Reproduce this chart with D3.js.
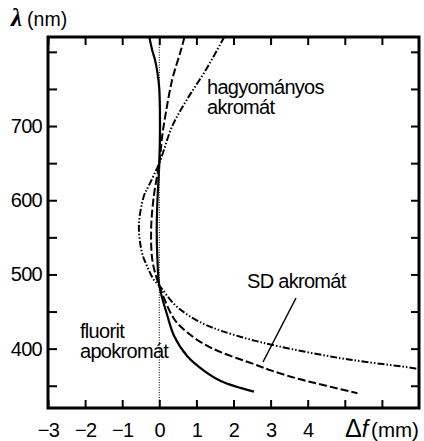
<!DOCTYPE html>
<html>
<head>
<meta charset="utf-8">
<script src="https://cdn.jsdelivr.net/npm/d3@7"></script>
<style>
  body { margin: 0; background: #fff; }
  svg { display: block; }
  text { font-family: "Liberation Sans", Arial, sans-serif; fill: #000; }
</style>
</head>
<body>
<svg></svg>
<script>
// Wavelength (nm) and focal difference (mm)
let apoLambda = [820, 800, 790, 772, 750, 700, 650, 600, 560, 520, 485, 444, 417, 390, 370, 356, 342];
let apoDf     = [-0.27, -0.18, -0.12, -0.05, 0.0, 0.02, 0.0, -0.05, -0.07, -0.05, 0.0, 0.22, 0.4, 0.75, 1.21, 1.67, 2.55];

let sdLambda = [820, 800, 763, 719, 687, 650, 605, 560, 517, 485, 440, 422, 406, 395, 379, 370, 359, 350, 340];
let sdDf     = [0.68, 0.57, 0.35, 0.18, 0.08, 0.0, -0.15, -0.22, -0.18, 0.0, 0.4, 0.75, 1.21, 1.67, 2.56, 3.05, 3.77, 4.5, 5.34];

let hagyLambda = [820, 777, 736, 700, 650, 620, 605, 565, 530, 517, 493, 485, 460, 446, 433, 424, 413, 403, 389, 382, 374, 371];
let hagyDf     = [1.75, 1.27, 0.75, 0.35, 0.0, -0.28, -0.42, -0.55, -0.47, -0.38, -0.15, 0.0, 0.4, 0.75, 1.21, 1.67, 2.4, 3.23, 4.66, 5.58, 6.82, 7.1];

let lambdaTicks = [350, 400, 450, 500, 550, 600, 650, 700, 750, 800];
let lambdaLabels = [400, 500, 600, 700];
let dfTicks = [-3, -2, -1, 0, 1, 2, 3, 4, 5, 6];
let dfLabels = ["\u22123", "\u22122", "\u22121", "0", "1", "2", "3", "4", "", ""];

let width = 424;
let height = 441;
let mLeft = 48, mRight = 419, mTop = 37, mBottom = 408;

let svg = d3.select("svg").attr("width", width).attr("height", height);

let xScale = d3.scaleLinear().domain([-3, 7]).range([mLeft, mRight]);
let yScale = d3.scaleLinear().domain([320, 820]).range([mBottom, mTop]);

// clip for curves
svg.append("clipPath").attr("id", "plot")
  .append("rect")
  .attr("x", mLeft).attr("y", mTop)
  .attr("width", mRight - mLeft).attr("height", mBottom - mTop);

// zero line
svg.append("line")
  .attr("x1", xScale(0)).attr("x2", xScale(0))
  .attr("y1", mTop).attr("y2", mBottom)
  .attr("stroke", "#000")
  .attr("stroke-width", 1)
  .attr("stroke-dasharray", "1,1.5");

// curves
function drawCurve(lambdas, dfs, dash, sw) {
  let pts = lambdas.map((l, i) => [dfs[i], l]);
  let line = d3.line()
    .x((d) => xScale(d[0]))
    .y((d) => yScale(d[1]))
    .curve(d3.curveCatmullRom.alpha(0.5));
  svg.append("path")
    .attr("clip-path", "url(#plot)")
    .attr("d", line(pts))
    .attr("fill", "none")
    .attr("stroke", "#000")
    .attr("stroke-width", sw)
    .attr("stroke-dasharray", dash);
}

drawCurve(hagyLambda, hagyDf, "7,2,1.5,2,1.5,2", 2);
drawCurve(sdLambda, sdDf, "8,3", 2);
drawCurve(apoLambda, apoDf, null, 2.2);

// axes: ticks point inwards
let xAxisB = d3.axisBottom(xScale).tickValues(dfTicks)
  .tickSizeInner(-8).tickSizeOuter(0).tickPadding(15)
  .tickFormat((d, i) => dfLabels[i]);
let gx = svg.append("g").attr("transform", `translate(0, ${mBottom})`).call(xAxisB);

let xAxisT = d3.axisTop(xScale).tickValues(dfTicks)
  .tickSizeInner(-8).tickSizeOuter(0).tickFormat("");
let gxt = svg.append("g").attr("transform", `translate(0, ${mTop})`).call(xAxisT);

let yAxisL = d3.axisLeft(yScale).tickValues(lambdaTicks)
  .tickSizeInner(-9).tickSizeOuter(0).tickPadding(6)
  .tickFormat((d) => (lambdaLabels.includes(d) ? d : ""));
let gy = svg.append("g").attr("transform", `translate(${mLeft}, 0)`).call(yAxisL);

let yAxisR = d3.axisRight(yScale).tickValues(lambdaTicks)
  .tickSizeInner(-8).tickSizeOuter(0).tickFormat("");
let gyr = svg.append("g").attr("transform", `translate(${mRight}, 0)`).call(yAxisR);

[gx, gxt, gy, gyr].forEach((g) => {
  g.select(".domain").remove();
  g.selectAll(".tick line").attr("stroke", "#000").attr("stroke-width", 2);
  g.selectAll("text")
    .style("font-family", '"Liberation Sans", Arial, sans-serif')
    .style("font-size", "20px")
    .style("letter-spacing", "-0.7px")
    .attr("fill", "#000");
});

// frame
svg.append("rect")
  .attr("x", mLeft).attr("y", mTop)
  .attr("width", mRight - mLeft).attr("height", mBottom - mTop)
  .attr("fill", "none")
  .attr("stroke", "#000")
  .attr("stroke-width", 3);

// axis titles
let yTitle = svg.append("text").attr("x", 11).attr("y", 26);
yTitle.append("tspan")
  .style("font-family", '"Liberation Serif", "DejaVu Serif", serif')
  .style("font-style", "italic").style("font-weight", "bold")
  .style("font-size", "25px")
  .text("\u03bb");
yTitle.append("tspan").attr("dx", 5).style("font-size", "19.5px").text("(nm)");

let xTitle = svg.append("text").attr("x", 345).attr("y", 437);
xTitle.append("tspan").style("font-size", "25px").text("\u0394");
xTitle.append("tspan")
  .style("font-style", "italic")
  .style("font-size", "23px")
  .text("f");
xTitle.append("tspan").attr("dx", 3).style("font-size", "20.5px").text("(mm)");

// curve labels
function label(x, y, lines) {
  let t = svg.append("text").attr("x", x).attr("y", y)
    .style("font-size", "20px").style("letter-spacing", "-0.7px");
  lines.forEach((s, i) => {
    t.append("tspan").attr("x", x).attr("dy", i === 0 ? 0 : 20).text(s);
  });
}
label(207, 94, ["hagyományos", "akromát"]);
label(247, 288, ["SD akromát"]);
label(80, 338, ["fluorit", "apokromát"]);

// pointer for SD akromát
svg.append("line")
  .attr("x1", 296).attr("y1", 298)
  .attr("x2", 263).attr("y2", 362)
  .attr("stroke", "#000")
  .attr("stroke-width", 1.5);
</script>
</body>
</html>
